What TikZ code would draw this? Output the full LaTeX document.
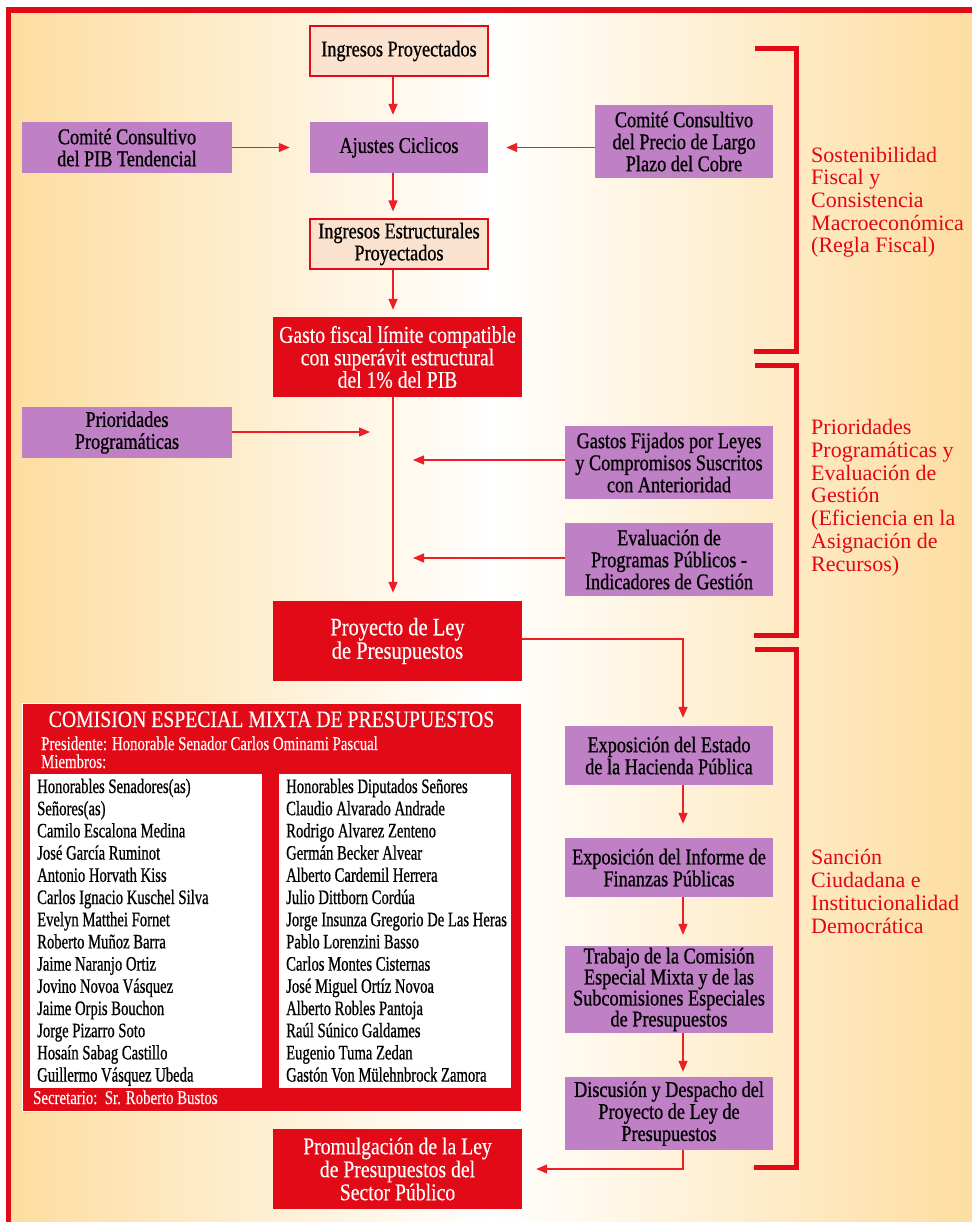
\documentclass[tikz,border=0pt]{standalone}
\usepackage{fontspec}
\setmainfont{Liberation Serif}
\newfontfamily\condA[FakeStretch=0.81,FakeBold=0.8]{Liberation Serif}
\newfontfamily\condB[FakeStretch=0.82,FakeBold=0.3]{Liberation Serif}
\newfontfamily\condT[FakeStretch=0.84,FakeBold=0.3]{Liberation Serif}
\newfontfamily\condN[FakeStretch=0.715,FakeBold=0.7]{Liberation Serif}
\newfontfamily\condP[FakeStretch=0.76,FakeBold=0.3]{Liberation Serif}
\usetikzlibrary{arrows.meta}
\definecolor{myred}{RGB}{226,10,22}
\definecolor{arrred}{RGB}{236,30,38}
\definecolor{mypurple}{RGB}{191,128,198}
\definecolor{mypink}{RGB}{251,226,207}
\definecolor{bgor}{RGB}{253,221,160}
\definecolor{labred}{RGB}{227,6,19}
\begin{document}
\begin{tikzpicture}[x=1pt,y=-1pt,
  purplebox/.style={rectangle, fill=mypurple, inner sep=0pt, align=center, text=black,
    font=\condA\fontsize{22.5}{22}\selectfont},
  pinkbox/.style={rectangle, fill=mypink, draw=myred, line width=1.2pt, inner sep=0pt, align=center, text=black,
    font=\condA\fontsize{22.5}{22}\selectfont},
  redbox/.style={rectangle, fill=myred, inner sep=0pt, align=center, text=white,
    font=\condB\fontsize{24}{23}\selectfont},
  whitecol/.style={rectangle, fill=white, inner sep=0pt},
  arr/.style={draw=arrred, line width=1.4pt, -{Triangle[length=11pt,width=9pt]}},
  bracket/.style={draw=myred, line width=5pt, miter limit=10},
  sidelabel/.style={anchor=base west, align=left, text=labred, inner sep=0pt,
    font=\fontsize{22}{22.7}\selectfont},
  member/.style={anchor=base west, inner sep=0pt, text=black, font=\condN\fontsize{20.5}{22}\selectfont},
  commtext/.style={anchor=base west, inner sep=0pt, text=white, font=\condP\fontsize{19.5}{18}\selectfont}
]
\useasboundingbox (0,0) rectangle (971,1222);
% background
\fill[white] (0,0) rectangle (971,1222);
\shade[left color=bgor, right color=bgor, middle color=white] (8.5,10) rectangle (975,1226);
\draw[myred, line width=5.5pt] (8.5,1230) -- (8.5,10) -- (980,10);

% boxes
\node[pinkbox, minimum width=178, minimum height=50] (ip) at (399,51) {Ingresos Proyectados};
\node[purplebox, minimum width=178, minimum height=51] (aj) at (399,147.5) {Ajustes Ciclicos};
\node[purplebox, minimum width=210, minimum height=51] (cpib) at (127,147.5) {Comité Consultivo\\del PIB Tendencial};
\node[purplebox, minimum width=178, minimum height=73] (ccob) at (684,141.5) {Comité Consultivo\\del Precio de Largo\\Plazo del Cobre};
\node[pinkbox, minimum width=178, minimum height=50] (iep) at (399,244) {Ingresos Estructurales\\Proyectados};
\node[redbox, minimum width=249, minimum height=80, font=\condB\fontsize{24}{22.5}\selectfont] (gasto) at (397.5,357) {Gasto fiscal límite compatible\\con superávit estructural\\del 1\% del PIB};
\node[purplebox, minimum width=210, minimum height=51] (prio) at (127,432.5) {Prioridades\\Programáticas};
\node[purplebox, minimum width=208, minimum height=73] (gfl) at (669,462.5) {Gastos Fijados por Leyes\\y Compromisos Suscritos\\con Anterioridad};
\node[purplebox, minimum width=208, minimum height=73] (eval) at (669,559.5) {Evaluación de\\Programas Públicos -\\Indicadores de Gestión};
\node[redbox, minimum width=249, minimum height=80, font=\condB\fontsize{25}{23.5}\selectfont] (proy) at (397.5,641) {Proyecto de Ley\\de Presupuestos};
\node[purplebox, minimum width=208, minimum height=59] (ees) at (669,755.5) {Exposición del Estado\\de la Hacienda Pública};
\node[purplebox, minimum width=208, minimum height=59] (eif) at (669,867.5) {Exposición del Informe de\\Finanzas Públicas};
\node[purplebox, minimum width=208, minimum height=87, font=\condA\fontsize{22.5}{21}\selectfont] (tcm) at (669,989.5) {Trabajo de la Comisión\\Especial Mixta y de las\\Subcomisiones Especiales\\de Presupuestos};
\node[purplebox, minimum width=208, minimum height=73] (ddp) at (669,1113.5) {Discusión y Despacho del\\Proyecto de Ley de\\Presupuestos};
\node[redbox, minimum width=249, minimum height=80] (prom) at (397.5,1169) {Promulgación de la Ley\\de Presupuestos del\\Sector Público};

% junction points on the central spine
\coordinate (j1) at (393,432);
\coordinate (j2) at (393,460);
\coordinate (j3) at (393,558);

% arrows
\draw[arr, shorten >=7pt] ([xshift=-6pt]ip.south) -- ([xshift=-6pt]aj.north);
\draw[arr, shorten >=7pt] ([xshift=-6pt]aj.south) -- ([xshift=-6pt]iep.north);
\draw[arr, shorten >=7pt] ([xshift=-6pt]iep.south) -- ([xshift=-6pt]iep.south |- gasto.north);
\draw[arr, shorten >=8pt] ([xshift=-4.5pt]gasto.south) -- ([xshift=-4.5pt]proy.north);
\draw[arr, shorten >=20pt] (cpib.east) -- (aj.west);
\draw[arr, shorten >=18pt] (ccob.west |- aj.east) -- (aj.east);
\draw[arr, shorten >=23pt] (prio.east |- j1) -- (j1);
\draw[arr, shorten >=20pt] (gfl.west |- j2) -- (j2);
\draw[arr, shorten >=20pt] (eval.west |- j3) -- (j3);
\draw[arr, shorten >=8pt] ([yshift=2pt]proy.east) -| ([xshift=14pt]ees.north);
\draw[arr, shorten >=14pt] ([xshift=14pt]ees.south) -- ([xshift=14pt]eif.north);
\draw[arr, shorten >=11pt] ([xshift=14pt]eif.south) -- ([xshift=14pt]tcm.north);
\draw[arr, shorten >=5pt] ([xshift=14pt]tcm.south) -- ([xshift=14pt]ddp.north);
\draw[arr, shorten >=14pt] ([xshift=14pt]ddp.south) |- (prom.east);

% brackets
\draw[bracket] (755,49) -- (796.5,49) -- (796.5,351) -- (754,351);
\draw[bracket] (755,365.5) -- (796.5,365.5) -- (796.5,635.5) -- (754,635.5);
\draw[bracket] (755,649) -- (796.5,649) -- (796.5,1167) -- (754,1167);

% side labels (anchor at the baseline of the last line)
\node[sidelabel] (lab1) at (811,253) {Sostenibilidad\\Fiscal y\\Consistencia\\Macroeconómica\\(Regla Fiscal)};
\node[sidelabel] (lab2) at (811,571) {Prioridades\\Programáticas y\\Evaluación de\\Gestión\\(Eficiencia en la\\Asignación de\\Recursos)};
\node[sidelabel] (lab3) at (811,933) {Sanción\\Ciudadana e\\Institucionalidad\\Democrática};

% commission
\node[rectangle, fill=myred, draw=white, line width=0.8pt, minimum width=499, minimum height=408, inner sep=0pt] (comm) at (271.5,907) {};
\node[whitecol, minimum width=232, minimum height=314] (colL) at (146,931) {};
\node[whitecol, minimum width=232, minimum height=314] (colR) at (395,931) {};
\node[anchor=base, inner sep=0pt, text=white, font=\condT\fontsize{23.5}{22}\selectfont] (ctitle) at (271.5,727) {COMISION ESPECIAL MIXTA DE PRESUPUESTOS};
\node[commtext] (cpres) at (41,750) {Presidente: Honorable Senador Carlos Ominami Pascual};
\node[commtext] (cmiem) at (41,768) {Miembros:};
\node[commtext] (csec) at (33,1104) {Secretario:\ \ Sr. Roberto Bustos};
\foreach \n [count=\i from 0] in {Honorables Senadores(as),Señores(as),Camilo Escalona Medina,José García Ruminot,Antonio Horvath Kiss,Carlos Ignacio Kuschel Silva,Evelyn Matthei Fornet,Roberto Muñoz Barra,Jaime Naranjo Ortiz,Jovino Novoa Vásquez,Jaime Orpis Bouchon,Jorge Pizarro Soto,Hosaín Sabag Castillo,Guillermo Vásquez Ubeda}
  \node[member] (nl\i) at (37,793+22.2*\i) {\n};
\foreach \n [count=\i from 0] in {Honorables Diputados Señores,Claudio Alvarado Andrade,Rodrigo Alvarez Zenteno,Germán Becker Alvear,Alberto Cardemil Herrera,Julio Dittborn Cordúa,Jorge Insunza Gregorio De Las Heras,Pablo Lorenzini Basso,Carlos Montes Cisternas,José Miguel Ortíz Novoa,Alberto Robles Pantoja,Raúl Súnico Galdames,Eugenio Tuma Zedan,Gastón Von Mülehnbrock Zamora}
  \node[member] (nr\i) at (286,793+22.2*\i) {\n};
\end{tikzpicture}
\end{document}
